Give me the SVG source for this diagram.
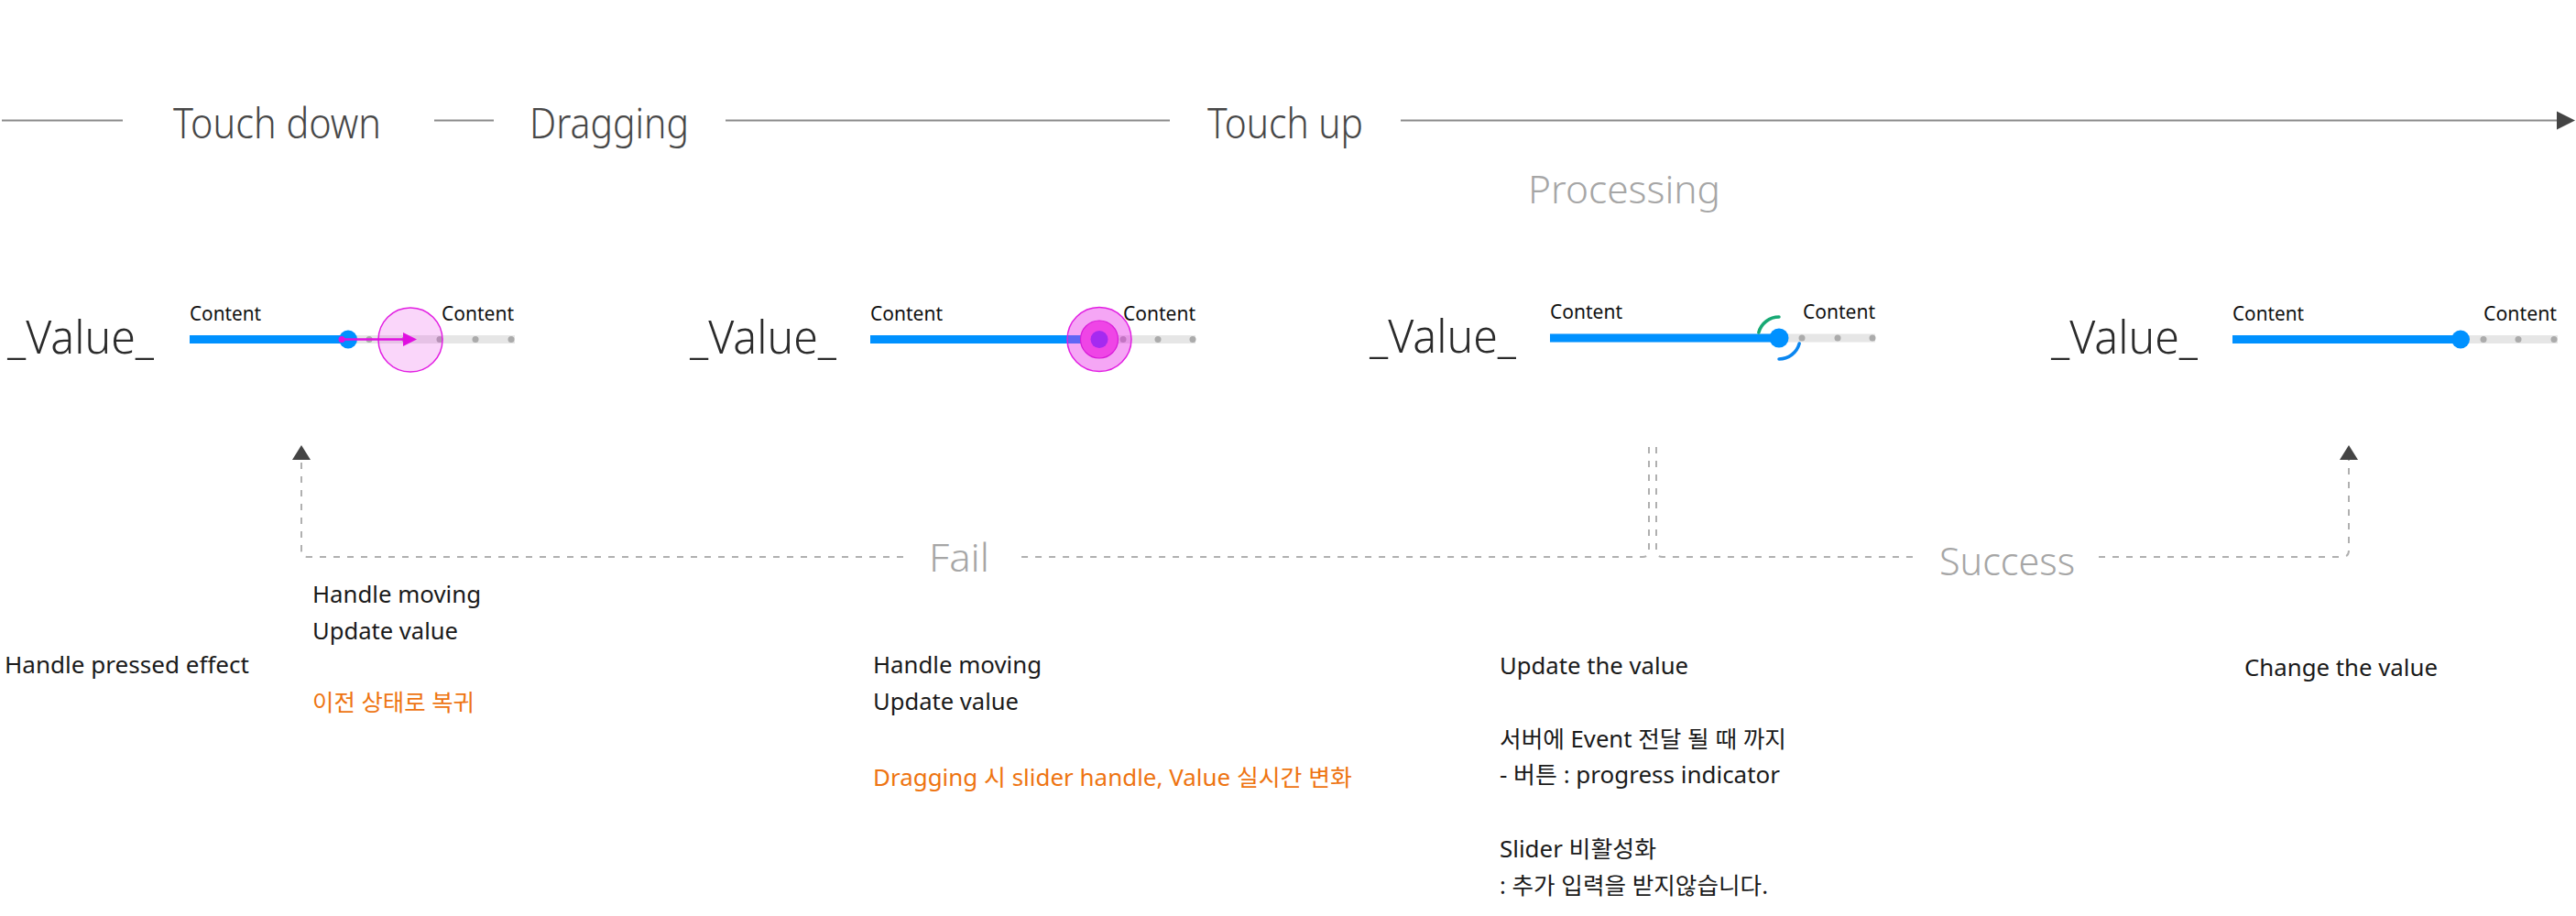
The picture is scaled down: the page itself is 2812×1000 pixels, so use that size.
<svg xmlns="http://www.w3.org/2000/svg" width="2812" height="1000" viewBox="0 0 2812 1000">
<style>
  text { font-family: "Noto Sans", "Noto Sans CJK KR", sans-serif; }
  .head { font-size: 45px; font-weight: 300; fill: #474747; }
  .state { font-size: 42px; font-weight: 300; fill: #a6a6a6; }
  .val { font-size: 50px; font-weight: 300; fill: #2b2b2b; }
  .cnt { font-size: 21px; font-weight: 400; fill: #111; }
  .body { font-size: 25px; font-weight: 400; fill: #1a1a1a; }
  .note { font-size: 25px; font-weight: 400; fill: #ee7411; }
  .tl { stroke: #8a8a8a; stroke-width: 2; fill: none; }
  .dash { stroke: #b0b0b0; stroke-width: 2; fill: none; stroke-dasharray: 7 8; }
  .trk { fill: #e6e6e6; }
  .act { fill: #0091ff; }
  .dot { fill: #ababab; }
  .hdl { fill: #0091ff; }
</style>
<defs>
  <marker id="arrUp" viewBox="0 0 16 20" refX="0" refY="10" markerWidth="16" markerHeight="20" markerUnits="userSpaceOnUse" orient="auto">
    <path d="M0,0 L16,10 L0,20 Z" fill="#444"/>
  </marker>
</defs>

<g id="timeline">
  <line class="tl" x1="2" y1="131.5" x2="134" y2="131.5"/>
  <line class="tl" x1="474" y1="131.5" x2="539" y2="131.5"/>
  <line class="tl" x1="792" y1="131.5" x2="1277" y2="131.5"/>
  <line class="tl" x1="1529" y1="131.5" x2="2794" y2="131.5"/>
  <path d="M2791,121.5 L2811,131.5 L2791,141.5 Z" fill="#444"/>
  <text class="head" x="189" y="151" textLength="227" lengthAdjust="spacingAndGlyphs">Touch down</text>
  <text class="head" x="578" y="151" textLength="174" lengthAdjust="spacingAndGlyphs">Dragging</text>
  <text class="head" x="1318" y="151" textLength="170" lengthAdjust="spacingAndGlyphs">Touch up</text>
  <text class="state" x="1668" y="221.5" textLength="210" lengthAdjust="spacingAndGlyphs">Processing</text>
</g>

<g id="slider-touchdown">
  <text class="val" x="8" y="386" textLength="160" lengthAdjust="spacingAndGlyphs">_Value_</text>
  <text class="cnt" x="207" y="350" textLength="78" lengthAdjust="spacingAndGlyphs">Content</text>
  <text class="cnt" x="482" y="350" textLength="79" lengthAdjust="spacingAndGlyphs">Content</text>
  <rect class="trk" x="207" y="366" width="355" height="9"/>
  <rect class="act" x="207" y="366" width="173" height="9"/>
  <circle class="dot" cx="403" cy="370.5" r="3.5"/>
  <circle class="dot" cx="442" cy="370.5" r="3.5"/>
  <circle class="dot" cx="480" cy="370.5" r="3.5"/>
  <circle class="dot" cx="519" cy="370.5" r="3.5"/>
  <circle class="dot" cx="558" cy="370.5" r="3.5"/>
  <circle class="hdl" cx="380" cy="370.5" r="10"/>
  <circle cx="448" cy="371" r="35" fill="#e632e6" fill-opacity="0.2" stroke="#e21ee2" stroke-width="1.5"/>
  <line x1="373" y1="370.5" x2="442" y2="370.5" stroke="#e010e0" stroke-width="2.5"/>
  <circle cx="373" cy="370.5" r="3.5" fill="#e010e0"/>
  <path d="M440,363 L455,370.5 L440,378 Z" fill="#e010e0"/>
</g>

<g id="slider-dragging">
  <text class="val" x="753" y="386" textLength="160" lengthAdjust="spacingAndGlyphs">_Value_</text>
  <text class="cnt" x="950" y="350" textLength="79" lengthAdjust="spacingAndGlyphs">Content</text>
  <text class="cnt" x="1226" y="350" textLength="79" lengthAdjust="spacingAndGlyphs">Content</text>
  <rect class="trk" x="950" y="366" width="355" height="9"/>
  <rect class="act" x="950" y="366" width="250" height="9"/>
  <circle class="dot" cx="1226" cy="370.5" r="3.5"/>
  <circle class="dot" cx="1264" cy="370.5" r="3.5"/>
  <circle class="dot" cx="1302" cy="370.5" r="3.5"/>
  <circle cx="1200" cy="370.5" r="35" fill="#e628e6" fill-opacity="0.41" stroke="#e21ee2" stroke-width="1.5"/>
  <circle cx="1200" cy="370.5" r="20.5" fill="#ef45e6" stroke="#d81ad8" stroke-width="1.2"/>
  <circle cx="1200" cy="370.5" r="9.5" fill="#a52af0"/>
</g>

<g id="slider-processing">
  <text class="val" x="1495" y="385" textLength="160" lengthAdjust="spacingAndGlyphs">_Value_</text>
  <text class="cnt" x="1692" y="348" textLength="79" lengthAdjust="spacingAndGlyphs">Content</text>
  <text class="cnt" x="1968" y="348" textLength="79" lengthAdjust="spacingAndGlyphs">Content</text>
  <rect class="trk" x="1692" y="364.5" width="355" height="9"/>
  <rect class="act" x="1692" y="364.5" width="250" height="9"/>
  <circle class="dot" cx="1967" cy="369" r="3.5"/>
  <circle class="dot" cx="2006" cy="369" r="3.5"/>
  <circle class="dot" cx="2044" cy="369" r="3.5"/>
  <circle class="hdl" cx="1942" cy="369" r="10.5"/>
  <path d="M1942,346 A23,23 0 0 0 1919.8,363" fill="none" stroke="#17a974" stroke-width="3.5" stroke-linecap="round"/>
  <path d="M1964.2,375 A23,23 0 0 1 1942,392" fill="none" stroke="#0a86f0" stroke-width="3.5" stroke-linecap="round"/>
</g>

<g id="slider-changed">
  <text class="val" x="2239" y="386" textLength="160" lengthAdjust="spacingAndGlyphs">_Value_</text>
  <text class="cnt" x="2437" y="350" textLength="78" lengthAdjust="spacingAndGlyphs">Content</text>
  <text class="cnt" x="2711" y="350" textLength="80" lengthAdjust="spacingAndGlyphs">Content</text>
  <rect class="trk" x="2437" y="366" width="355" height="9"/>
  <rect class="act" x="2437" y="366" width="249" height="9"/>
  <circle class="dot" cx="2711" cy="370.5" r="3.5"/>
  <circle class="dot" cx="2749" cy="370.5" r="3.5"/>
  <circle class="dot" cx="2788" cy="370.5" r="3.5"/>
  <circle class="hdl" cx="2686" cy="370.5" r="10"/>
</g>

<g id="connectors">
  <path class="dash" d="M1800,488 L1800,601 Q1800,608 1793,608 L1111,608 M986,608 L336,608 Q329,608 329,601 L329,502" marker-end="url(#arrUp)"/>
  <path class="dash" d="M1808,488 L1808,601 Q1808,608 1815,608 L2088,608 M2291,608 L2557,608 Q2564,608 2564,601 L2564,502" marker-end="url(#arrUp)"/>
  <text class="state" x="1014" y="624" textLength="66" lengthAdjust="spacingAndGlyphs">Fail</text>
  <text class="state" x="2117" y="628" textLength="148" lengthAdjust="spacingAndGlyphs">Success</text>
</g>

<g id="desc-touchdown">
  <text class="body" x="5" y="735" textLength="267" lengthAdjust="spacingAndGlyphs">Handle pressed effect</text>
</g>
<g id="desc-fail">
  <text class="body" x="341" y="657.5" textLength="184" lengthAdjust="spacingAndGlyphs">Handle moving</text>
  <text class="body" x="341" y="697.5" textLength="159" lengthAdjust="spacingAndGlyphs">Update value</text>
  <text class="note" x="341" y="776" textLength="177" lengthAdjust="spacingAndGlyphs">이전 상태로 복귀</text>
</g>
<g id="desc-dragging">
  <text class="body" x="953" y="735" textLength="184" lengthAdjust="spacingAndGlyphs">Handle moving</text>
  <text class="body" x="953" y="775" textLength="159" lengthAdjust="spacingAndGlyphs">Update value</text>
  <text class="note" x="953" y="858" textLength="523" lengthAdjust="spacingAndGlyphs">Dragging 시 slider handle, Value 실시간 변화</text>
</g>
<g id="desc-processing">
  <text class="body" x="1637" y="736" textLength="206" lengthAdjust="spacingAndGlyphs">Update the value</text>
  <text class="body" x="1637" y="816" textLength="313" lengthAdjust="spacingAndGlyphs">서버에 Event 전달 될 때 까지</text>
  <text class="body" x="1637" y="855" textLength="306" lengthAdjust="spacingAndGlyphs">- 버튼 : progress indicator</text>
  <text class="body" x="1637" y="936" textLength="171" lengthAdjust="spacingAndGlyphs">Slider 비활성화</text>
  <text class="body" x="1637" y="976" textLength="293" lengthAdjust="spacingAndGlyphs">: 추가 입력을 받지않습니다.</text>
</g>
<g id="desc-changed">
  <text class="body" x="2450" y="738" textLength="211" lengthAdjust="spacingAndGlyphs">Change the value</text>
</g>
</svg>
